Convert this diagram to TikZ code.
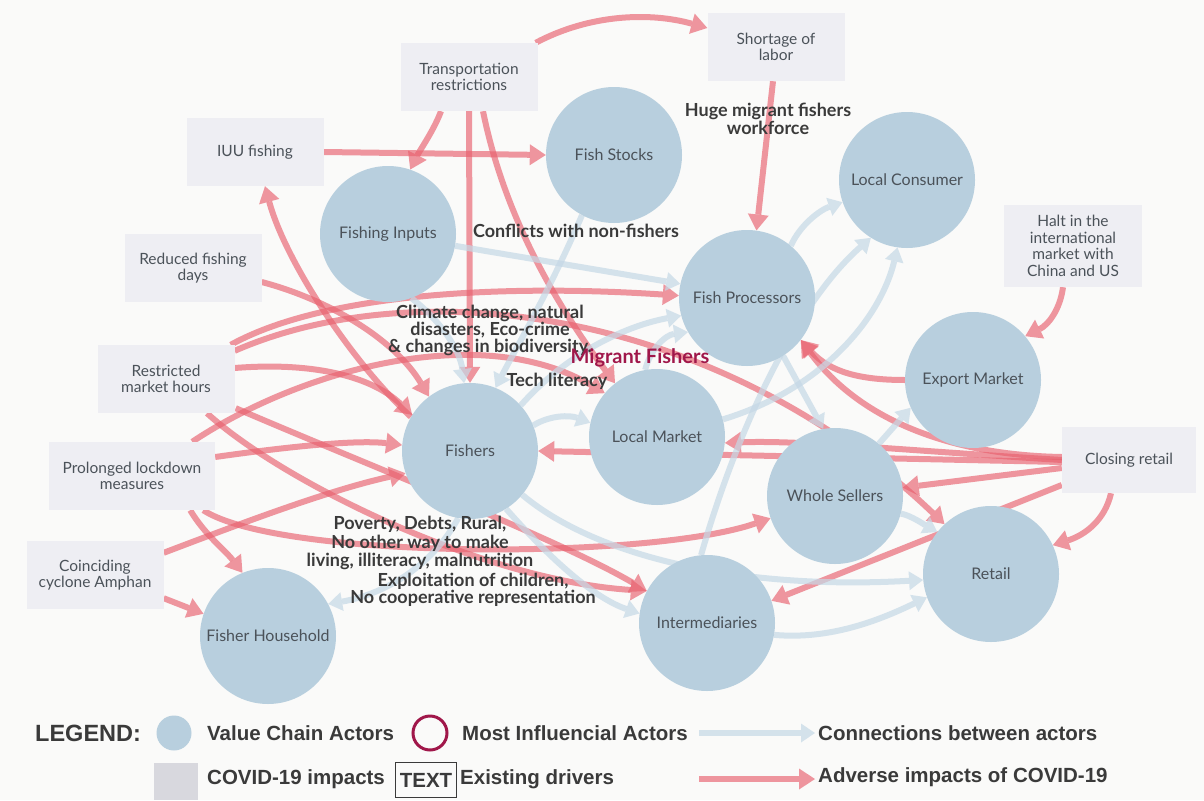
\documentclass[tikz,border=0pt]{standalone}
\usepackage{fontspec}
\setmainfont{Lato}
\newfontfamily\legendfont{Liberation Sans}
\usetikzlibrary{arrows.meta,calc}
\definecolor{bg}{HTML}{FAFAF9}
\definecolor{actor}{HTML}{B8CFDE}
\definecolor{impact}{HTML}{EEEEF3}
\definecolor{covid}{HTML}{E8606E}
\definecolor{link}{HTML}{C5D8E6}
\definecolor{labeltext}{HTML}{4B5259}
\definecolor{drivertext}{HTML}{3A3A3A}
\definecolor{influence}{HTML}{A0174A}
\definecolor{legendgrey}{HTML}{D8D8DE}
\pgfdeclarelayer{paper}
\pgfdeclarelayer{edges}
\pgfsetlayers{paper,edges,main}

\begin{document}
\begin{tikzpicture}[x=1pt,y=-1pt,
  actornode/.style={circle, fill=actor, minimum size=136pt, inner sep=0pt,
    text=labeltext, font=\fontsize{16}{19}\selectfont},
  impactbox/.style={rectangle, fill=impact, minimum width=137pt, minimum height=68pt,
    inner sep=2pt, align=center, text=labeltext, font=\fontsize{15.5}{16.5}\selectfont},
  driver/.style={align=center, text=drivertext, inner sep=0pt,
    font=\bfseries\fontsize{18}{18.5}\selectfont},
  covidarrow/.style={draw=covid, opacity=0.65, line width=6pt,
    -{Triangle[length=16pt,width=21pt,line width=0pt]}},
  linkarrow/.style={draw=link, opacity=0.7, line width=6pt,
    -{Triangle[length=14pt,width=19pt,line width=0pt]}},
  legendtext/.style={anchor=west, inner sep=0pt, text=drivertext,
    font=\legendfont\bfseries\fontsize{20.5}{24}\selectfont},
]
\useasboundingbox (0,0) rectangle (1204,800);
\begin{pgfonlayer}{paper}
  \fill[bg] (0,0) rectangle (1204,800);
\end{pgfonlayer}

% value chain actors
\node[actornode] (fstocks)   at (614,155) {Fish Stocks};
\node[actornode] (finputs)   at (388,234) {Fishing Inputs};
\node[actornode] (lconsumer) at (907,180) {Local Consumer};
\node[actornode] (fproc)     at (747,298) {Fish Processors};
\node[actornode] (export)    at (973,380) {Export Market};
\node[actornode] (fishers)   at (470,451) {Fishers};
\node[actornode] (lmarket)   at (657,437) {Local Market};
\node[actornode] (wsellers)  at (835,496) {Whole Sellers};
\node[actornode] (retail)    at (991,574) {Retail};
\node[actornode] (interm)    at (707,623) {Intermediaries};
\node[actornode] (household) at (268,636) {Fisher Household};

% covid-19 impacts
\node[impactbox] (transp)     at (469,77)  {Transportation\\restrictions};
\node[impactbox] (shortage)   at (776,47)  {Shortage of\\labor};
\node[impactbox] (iuu)        at (255,152) {IUU fishing};
\node[impactbox] (reduced)    at (193,268) {Reduced fishing\\days};
\node[impactbox] (restricted) at (166,379) {Restricted\\market hours};
\node[impactbox, minimum width=166pt] (lockdown) at (132,476) {Prolonged lockdown\\measures};
\node[impactbox] (cyclone)    at (95,575)  {Coinciding\\cyclone Amphan};
\node[impactbox, minimum width=138pt, minimum height=82pt] (halt) at (1073,246) {Halt in the\\international\\market with\\China and US};
\node[impactbox, minimum width=134pt, minimum height=66pt] (closing) at (1129,460) {Closing retail};

% existing drivers
\node[driver] (workforce) at (768,119) {Huge migrant fishers\\workforce};
\node[driver] (conflicts) at (576,231) {Conflicts with non-fishers};
\node[driver, font=\bfseries\fontsize{18}{17}\selectfont] (climate) at (490,330) {Climate change, natural\\disasters, Eco-crime\\\& changes in biodiversity.};
\node[driver, text=influence, font=\bfseries\fontsize{20}{22}\selectfont] (migrant) at (640,358) {Migrant Fishers};
\node[driver] (tech) at (557,381) {Tech literacy};
\node[driver] (poverty) at (420,543) {Poverty, Debts, Rural,\\No other way to make\\living, illiteracy, malnutrition};
\node[driver, font=\bfseries\fontsize{18}{17.5}\selectfont] (exploit) at (473,590) {Exploitation of children,\\No cooperative representation};

\begin{pgfonlayer}{edges}
% adverse impacts of covid-19
\draw[covidarrow] ($(transp.north east)+(-2,0)$) .. controls (590,14) and (650,12) .. ($(shortage.west)+(0,-19)$);
\draw[covidarrow] ($(transp.south)+(-28,0)$) .. controls (434,130) and (420,150) .. (finputs.71);
\draw[covidarrow] (transp.south) -- (fishers.north);
\draw[covidarrow] ($(transp.south)+(14,0)$) .. controls (505,220) and (560,310) .. (lmarket.128);
\draw[covidarrow] ($(shortage.south)+(-3,0)$) -- (fproc.82);
\draw[covidarrow] (iuu.east) -- (fstocks.west);
\draw[covidarrow] (fishers.150) .. controls (350,360) and (285,260) .. ($(iuu.south)+(10,0)$);
\draw[covidarrow] ($(reduced.east)+(0,14)$) .. controls (330,300) and (395,340) .. (fishers.127);
\draw[covidarrow] ($(restricted.north east)+(-4,0)$) .. controls (330,290) and (520,285) .. (fproc.178);
\draw[covidarrow] ($(restricted.north east)+(0,6)$) .. controls (420,270) and (720,310) .. (retail.133);
\draw[covidarrow] ($(restricted.east)+(0,-11)$) .. controls (310,362) and (370,375) .. (fishers.148);
\draw[covidarrow] ($(restricted.south east)+(1,-5)$) .. controls (380,470) and (560,540) .. (interm.152);
\draw[covidarrow] ($(restricted.south)+(41,0)$) .. controls (280,480) and (480,580) .. (interm.152);
\draw[covidarrow] ($(lockdown.north east)+(-23,0)$) .. controls (300,370) and (480,320) .. (lmarket.140);
\draw[covidarrow] ($(lockdown.east)+(0,-19)$) .. controls (300,445) and (360,440) .. (fishers.175);
\draw[covidarrow] ($(lockdown.south east)+(-25,0)$) .. controls (205,535) and (225,550) .. (household.112);
\draw[covidarrow] ($(lockdown.south east)+(-12,0)$) .. controls (280,560) and (650,560) .. (wsellers.199);
\draw[covidarrow] ($(cyclone.north east)+(0,12)$) .. controls (250,520) and (330,490) .. (fishers.199);
\draw[covidarrow] ($(cyclone.south east)+(0,-11)$) -- (household.161);
\draw[covidarrow] ($(halt.south)+(-10,0)$) .. controls (1060,310) and (1048,325) .. (export.40);
\draw[covidarrow] (export.west) .. controls (860,380) and (830,372) .. (fproc.-38);
\draw[covidarrow] ($(closing.west)+(0,-3)$) .. controls (950,455) and (860,420) .. (fproc.-38);
\draw[covidarrow] (closing.west) .. controls (900,450) and (800,440) .. (lmarket.-5);
\draw[covidarrow] ($(closing.west)+(0,2)$) -- (fishers.0);
\draw[covidarrow] ($(closing.west)+(0,8)$) -- (wsellers.7);
\draw[covidarrow] ($(closing.west)+(0,25)$) -- (interm.19);
\draw[covidarrow] ($(closing.south)+(-18,0)$) .. controls (1105,520) and (1085,535) .. (retail.25);

% connections between actors
\draw[linkarrow] (finputs.-10) -- (fproc.168);
\draw[linkarrow] (finputs.-70) .. controls (440,320) and (460,350) .. (fishers.95);
\draw[linkarrow] (fstocks.-118) .. controls (550,290) and (515,350) .. (fishers.68);
\draw[linkarrow] (fishers.42) .. controls (570,350) and (630,325) .. (fproc.195);
\draw[linkarrow] (lmarket.100) .. controls (650,350) and (665,335) .. (fproc.210);
\draw[linkarrow] (fishers.22) .. controls (550,415) and (570,415) .. (lmarket.168);
\draw[linkarrow] (fproc.50) .. controls (800,225) and (820,210) .. (lconsumer.199);
\draw[linkarrow] (interm.95) .. controls (740,420) and (800,300) .. (lconsumer.238);
\draw[linkarrow] (lmarket.15) .. controls (820,390) and (880,320) .. (lconsumer.262);
\draw[linkarrow] (fproc.-58) -- (wsellers.100);
\draw[linkarrow] (wsellers.50) -- (export.204);
\draw[linkarrow] (wsellers.-15) .. controls (910,515) and (925,525) .. (retail.142);
\draw[linkarrow] (fishers.-40) .. controls (600,560) and (750,590) .. (retail.185);
\draw[linkarrow] (fishers.-58) .. controls (560,570) and (600,600) .. (interm.172);
\draw[linkarrow] (interm.-10) .. controls (830,640) and (880,620) .. (retail.200);
\draw[linkarrow] (fishers.-100) .. controls (430,570) and (380,595) .. (household.28);
\end{pgfonlayer}

% legend
\node[anchor=west, inner sep=0pt, text=drivertext, font=\legendfont\bfseries\fontsize{23.5}{26}\selectfont] (legendtitle) at (35,733) {LEGEND:};
\node[circle, fill=actor, minimum size=35pt, inner sep=0pt] (keyactor) at (174,733) {};
\node[legendtext] (keyactortext) at (207,733) {Value Chain Actors};
\node[circle, draw=influence, line width=3pt, minimum size=34pt, inner sep=0pt] (keyinfl) at (430,733) {};
\node[legendtext] (keyinfltext) at (462,733) {Most Influencial Actors};
\coordinate (linkfrom) at (699,733);
\coordinate (linkto) at (815,733);
\draw[linkarrow] (linkfrom) -- (linkto);
\node[legendtext] (keylinktext) at (818,733) {Connections between actors};
\node[rectangle, fill=legendgrey, minimum width=44pt, minimum height=37pt, inner sep=0pt] (keyimpact) at (176,781) {};
\node[legendtext] (keyimpacttext) at (207,779) {COVID-19 impacts};
\node[draw=drivertext, line width=1.2pt, inner sep=4pt, minimum height=35pt, text=drivertext, font=\legendfont\bfseries\fontsize{20.5}{24}\selectfont] (keydriver) at (426,780) {TEXT};
\node[legendtext] (keydrivertext) at (460,779) {Existing drivers};
\coordinate (covidfrom) at (699,779);
\coordinate (covidto) at (815,779);
\draw[covidarrow] (covidfrom) -- (covidto);
\node[legendtext] (keycovidtext) at (818,777) {Adverse impacts of COVID-19};
\end{tikzpicture}
\end{document}
